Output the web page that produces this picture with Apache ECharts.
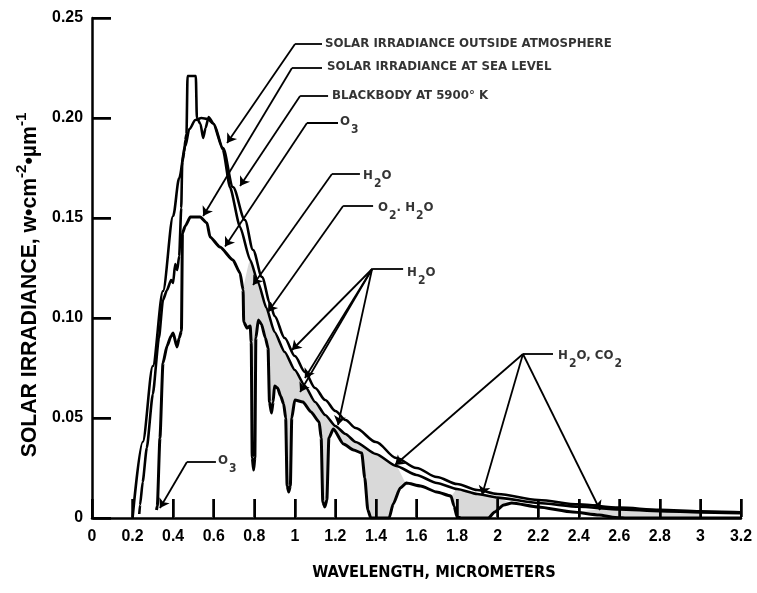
<!DOCTYPE html>
<html>
<head>
<meta charset="utf-8">
<script src="https://cdn.jsdelivr.net/npm/echarts@6/dist/echarts.min.js"></script>
<style>
html,body{margin:0;padding:0;background:#fff;}
#chart{width:757px;height:593px;}
</style>
</head>
<body>
<div id="chart"></div>
<script>
// ---------- data (micrometers, W·cm^-2·µm^-1) ----------
const xTickLabels = ['0','0.2','0.4','0.6','0.8','1','1.2','1.4','1.6','1.8','2','2.2','2.4','2.6','2.8','3','3.2'];
const yTickLabels = ['0','0.05','0.10','0.15','0.20','0.25'];

const blackbody5900K = [
  [0.20,0.000],[0.25,0.038],[0.30,0.076],[0.35,0.1135],[0.40,0.151],[0.43,0.170],[0.46,0.186],
  [0.48,0.1945],[0.51,0.199],[0.54,0.200],[0.57,0.1995],[0.60,0.197],[0.646,0.185],[0.695,0.1655],
  [0.754,0.149],[0.794,0.134],[0.838,0.1205],[0.878,0.1075],[0.90,0.101],[0.95,0.090],[1.00,0.081],
  [1.05,0.073],[1.10,0.065],[1.15,0.059],[1.20,0.0535],[1.25,0.049],[1.30,0.045],[1.40,0.038],
  [1.50,0.030],[1.60,0.025],[1.70,0.0205],[1.80,0.017],[1.90,0.014],[2.00,0.012],[2.20,0.009],
  [2.40,0.0068],[2.60,0.0052],[2.80,0.0041],[3.00,0.0033],[3.20,0.0028]
];

const outsideAtmosphere = [
  [0.233,0.002],[0.237,0.0065],[0.25,0.018],[0.27,0.035],[0.30,0.062],[0.33,0.090],[0.35,0.109],
  [0.37,0.114],[0.39,0.119],[0.40,0.1175],[0.41,0.127],[0.42,0.124],[0.43,0.131],[0.44,0.155],
  [0.445,0.178],[0.455,0.183],[0.46,0.189],[0.466,0.192],[0.471,0.221],[0.512,0.221],[0.517,0.200],
  [0.535,0.197],[0.548,0.190],[0.56,0.195],[0.575,0.2005],[0.597,0.1975],[0.646,0.184],[0.68,0.1655],
  [0.73,0.1455],[0.78,0.129],[0.82,0.1175],[0.86,0.105],[0.90,0.093],[0.95,0.083],[1.00,0.074],
  [1.05,0.066],[1.10,0.058],[1.15,0.0515],[1.20,0.046],[1.25,0.042],[1.30,0.038],[1.40,0.032],
  [1.50,0.026],[1.60,0.0215],[1.70,0.0175],[1.80,0.0145],[1.90,0.012],[2.00,0.0102],[2.20,0.0075],
  [2.40,0.0056],[2.60,0.0043],[2.80,0.0034],[3.00,0.0028],[3.20,0.0024]
];

const seaLevel = [
  [0.318,0.004],[0.322,0.006],[0.335,0.040],[0.35,0.0775],[0.37,0.086],[0.39,0.091],[0.40,0.0925],
  [0.419,0.0855],[0.43,0.090],[0.441,0.0935],[0.446,0.1425],[0.46,0.146],[0.485,0.1505],[0.533,0.1505],
  [0.567,0.1475],[0.582,0.1405],[0.631,0.1355],[0.695,0.129],[0.730,0.1225],[0.745,0.114],
  [0.748,0.098],[0.765,0.095],[0.78,0.096],[0.785,0.088],[0.79,0.030],[0.797,0.024],[0.803,0.030],
  [0.808,0.090],[0.82,0.099],[0.835,0.097],[0.855,0.090],[0.868,0.085],[0.875,0.058],[0.885,0.0525],
  [0.893,0.058],[0.90,0.066],[0.915,0.065],[0.93,0.061],[0.945,0.057],[0.955,0.050],[0.962,0.016],
  [0.97,0.013],[0.978,0.016],[0.985,0.050],[1.00,0.059],[1.04,0.058],[1.08,0.053],[1.12,0.048],
  [1.13,0.040],[1.138,0.008],[1.148,0.0055],[1.158,0.009],[1.168,0.040],[1.19,0.0445],[1.24,0.037],
  [1.29,0.034],[1.33,0.0325],[1.345,0.020],[1.36,0.004],[1.375,0.000],[1.465,0.000],[1.485,0.007],
  [1.52,0.015],[1.55,0.0175],[1.62,0.016],[1.70,0.013],[1.77,0.011],[1.785,0.006],[1.80,0.0005],
  [1.82,0.000],[1.955,0.000],[1.985,0.003],[2.03,0.0065],[2.07,0.0075],[2.20,0.0055],[2.37,0.003],
  [2.50,0.0015],[2.58,0.0003],[2.65,0.000],[3.20,0.000]
];

// upper edge of the stippled (absorbed) region
const absorbedTop = [
  [0.745,0.114],[0.78,0.129],[0.82,0.1175],[0.86,0.105],[0.90,0.093],[0.95,0.083],[1.00,0.074],
  [1.05,0.066],[1.10,0.058],[1.15,0.0515],[1.20,0.046],[1.25,0.042],[1.30,0.038],[1.40,0.032],
  [1.50,0.026],[1.55,0.0175],[1.62,0.016],[1.70,0.013],[1.77,0.011],[1.80,0.0145],[1.90,0.012],
  [2.00,0.0102],[2.07,0.0075],[2.20,0.0055],[2.37,0.003],[2.50,0.0042],[2.60,0.0043],[2.80,0.0034],
  [3.00,0.0028]
];

// annotation texts, anchors, leader segments (data coordinates)
const labelTexts = [
  '{m|SOLAR IRRADIANCE OUTSIDE ATMOSPHERE}',
  '{m|SOLAR IRRADIANCE AT SEA LEVEL}',
  '{m|BLACKBODY AT 5900° K}',
  '{m|O}{s|3}',
  '{m|H}{s|2}{m|O}',
  '{m|O}{s|2}{m|. H}{s|2}{m|O}',
  '{m|H}{s|2}{m|O}',
  '{m|H}{s|2}{m|O, CO}{s|2}',
  '{m|O}{s|3}'
];
const labelAnchors = [
  [1.149,0.2365],[1.159,0.225],[1.183,0.2105],[1.223,0.1975],[1.336,0.1705],
  [1.410,0.1545],[1.553,0.122],[2.298,0.0805],[0.621,0.028]
];
const leaderTicks = [
  [[1.001,0.237],[1.134,0.237]],
  [[0.986,0.225],[1.134,0.225]],
  [[1.026,0.211],[1.164,0.211]],
  [[1.060,0.1975],[1.213,0.1975]],
  [[1.183,0.172],[1.321,0.172]],
  [[1.238,0.156],[1.386,0.156]],
  [[1.381,0.1245],[1.534,0.1245]],
  [[2.125,0.082],[2.273,0.082]],
  [[0.468,0.028],[0.611,0.028]]
];
const leaderArrows = [
  [[1.001,0.237],[0.666,0.1875]],
  [[0.986,0.225],[0.548,0.151]],
  [[1.026,0.211],[0.730,0.166]],
  [[1.060,0.1975],[0.656,0.1357]],
  [[1.183,0.172],[0.794,0.1165]],
  [[1.238,0.156],[0.868,0.103]],
  [[1.381,0.1245],[0.986,0.084]],
  [[1.381,0.1245],[1.050,0.070]],
  [[1.381,0.1245],[1.026,0.063]],
  [[1.381,0.1245],[1.213,0.0465]],
  [[2.125,0.082],[1.494,0.0265]],
  [[2.125,0.082],[1.923,0.0115]],
  [[2.125,0.082],[2.505,0.004]],
  [[0.468,0.028],[0.335,0.005]]
];

// ---------- styling ----------
const SANS = '"Liberation Sans", Arial, Helvetica, sans-serif';
const NARROW = '"Liberation Sans Narrow", "Arial Narrow", "DejaVu Sans Condensed", "Liberation Sans", Arial, sans-serif';
const GRID = {left: 92, right: 16, top: 18, bottom: 75};
const W = 757, H = 593;
const X_MAX = 3.2, Y_MAX = 0.25;
const TICK_PX = 19;
const tickLenY = TICK_PX * Y_MAX / (H - GRID.top - GRID.bottom);
const tickLenX = TICK_PX * X_MAX / (W - GRID.left - GRID.right);

const mctx = document.createElement('canvas').getContext('2d');
function fitSize(text, width, family, weight, maxSize) {
  mctx.font = weight + ' 100px ' + family;
  const w = mctx.measureText(text).width;
  return Math.min(maxSize, 100 * width / w);
}
const annSize = fitSize('SOLAR IRRADIANCE OUTSIDE ATMOSPHERE', 287, NARROW, 'bold', 15.5);
const titleSize = fitSize('WAVELENGTH, MICROMETERS', 244, NARROW, 'bold', 20);
const tickSize = fitSize('0.25', 31, SANS, 'bold', 17);
const yNameSize = fitSize('SOLAR IRRADIANCE, w•cm•µm', 318, SANS, 'bold', 22);
const annLH = Math.round(annSize * 1.15);
const subDrop = Math.round(annSize * 0.6);

// tick marks as short segments in axis units (slightly off the axis line so they are not merged with it)
const tickSegments = []
  .concat(xTickLabels.map(t => [[parseFloat(t), tickLenY * 0.05], [parseFloat(t), tickLenY]]))
  .concat(yTickLabels.map(t => [[tickLenX * 0.05, parseFloat(t)], [tickLenX, parseFloat(t)]]));

const chart = echarts.init(document.getElementById('chart'), null, {renderer: 'canvas'});

const axisCommon = {
  axisLine: {show: true, onZero: false, lineStyle: {color: '#000', width: 2.5}},
  axisTick: {show: true, inside: true, length: TICK_PX, lineStyle: {color: '#000', width: 2}},
  splitLine: {show: false},
  minorTick: {show: false}
};

const option = {
  animation: false,
  backgroundColor: '#ffffff',
  grid: Object.assign({containLabel: false}, GRID),
  xAxis: Object.assign({
    type: 'value', min: 0, max: X_MAX, interval: 0.2,
    axisLabel: {
      color: '#000', fontFamily: SANS, fontWeight: 'bold', fontSize: tickSize, margin: 11,
      formatter: v => xTickLabels[Math.round(v * 5)]
    },
    name: 'WAVELENGTH, MICROMETERS', nameLocation: 'middle', nameGap: 47,
    nameTextStyle: {color: '#000', fontFamily: NARROW, fontWeight: 'bold', fontSize: titleSize, padding: [0, 0, 0, 35]}
  }, axisCommon),
  yAxis: Object.assign({
    type: 'value', min: 0, max: Y_MAX, interval: 0.05,
    axisLabel: {
      color: '#000', fontFamily: SANS, fontWeight: 'bold', fontSize: tickSize, margin: 9,
      formatter: v => yTickLabels[Math.round(v * 20)]
    },
    name: '{m|SOLAR IRRADIANCE, w•cm}{p|-2}{m|•µm}{p|-1}',
    nameLocation: 'middle', nameGap: 49,
    nameTextStyle: {
      color: '#000', fontFamily: SANS, fontWeight: 'bold', fontSize: yNameSize,
      padding: [0, 34, 0, 0],
      rich: {
        m: {fontFamily: SANS, fontWeight: 'bold', fontSize: yNameSize, lineHeight: Math.round(yNameSize * 1.15), verticalAlign: 'bottom', color: '#000'},
        p: {fontFamily: SANS, fontWeight: 'bold', fontSize: Math.round(yNameSize * 0.72), lineHeight: Math.round(yNameSize * 0.8), padding: [0, 0, Math.round(yNameSize * 0.55), 0], verticalAlign: 'bottom', color: '#000'}
      }
    }
  }, axisCommon),
  series: [
    {
      name: 'absorbed', type: 'line', data: absorbedTop, z: -6,
      symbol: 'none', showSymbol: false, smooth: 0.2, smoothMonotone: 'x',
      lineStyle: {width: 0, color: '#d9d9d9'},
      areaStyle: {color: '#d9d9d9', opacity: 1},
      silent: true
    },
    {
      name: 'Solar irradiance at sea level', type: 'line', data: seaLevel, z: -5,
      symbol: 'none', showSymbol: false, smooth: 0.2, smoothMonotone: 'x',
      lineStyle: {width: 3, color: '#000', join: 'round'},
      areaStyle: {color: '#ffffff', opacity: 1},
      silent: true
    },
    {
      name: 'Blackbody at 5900 K', type: 'line', data: blackbody5900K, z: -4,
      symbol: 'none', showSymbol: false, smooth: 0.3, smoothMonotone: 'x',
      lineStyle: {width: 2.6, color: '#000'},
      silent: true
    },
    {
      name: 'Solar irradiance outside atmosphere', type: 'line', data: outsideAtmosphere, z: -4,
      symbol: 'none', showSymbol: false, smooth: 0.2, smoothMonotone: 'x',
      lineStyle: {width: 2.6, color: '#000', join: 'round'},
      silent: true
    },
    {
      name: 'tick marks', type: 'lines', coordinateSystem: 'cartesian2d', z: -3, silent: true,
      clip: false, symbol: ['none', 'none'],
      lineStyle: {color: '#000', width: 2.5, opacity: 1, curveness: 0, cap: 'butt'},
      data: tickSegments.map(c => ({coords: c}))
    },
    {
      type: 'lines', coordinateSystem: 'cartesian2d', z: -3, silent: true,
      symbol: ['none', 'none'],
      lineStyle: {color: '#000', width: 1.8, opacity: 1, curveness: 0},
      data: leaderTicks.map(c => ({coords: c}))
    },
    {
      type: 'lines', coordinateSystem: 'cartesian2d', z: -3, silent: true,
      symbol: ['none', 'arrow'], symbolSize: 9,
      lineStyle: {color: '#000', width: 1.8, opacity: 1, curveness: 0},
      data: leaderArrows.map(c => ({coords: c}))
    },
    {
      type: 'scatter', z: -2, silent: true,
      symbolSize: 0.1, itemStyle: {color: 'rgba(0,0,0,0)'},
      data: labelAnchors.map((p, i) => ({value: p, name: labelTexts[i]})),
      label: {
        show: true, position: 'right', distance: 0, verticalAlign: 'top', align: 'left',
        offset: [0, -annLH / 2],
        formatter: p => p.name,
        color: '#000', fontFamily: NARROW, fontWeight: 'bold', fontSize: annSize,
        rich: {
          m: {fontFamily: NARROW, fontWeight: 'bold', fontSize: annSize, lineHeight: annLH, verticalAlign: 'top', color: '#000'},
          s: {fontFamily: NARROW, fontWeight: 'bold', fontSize: Math.round(annSize * 0.92), lineHeight: annLH, padding: [subDrop, 0, 0, 1], verticalAlign: 'top', color: '#000'}
        }
      }
    }
  ]
};
chart.setOption(option);
</script>
</body>
</html>
